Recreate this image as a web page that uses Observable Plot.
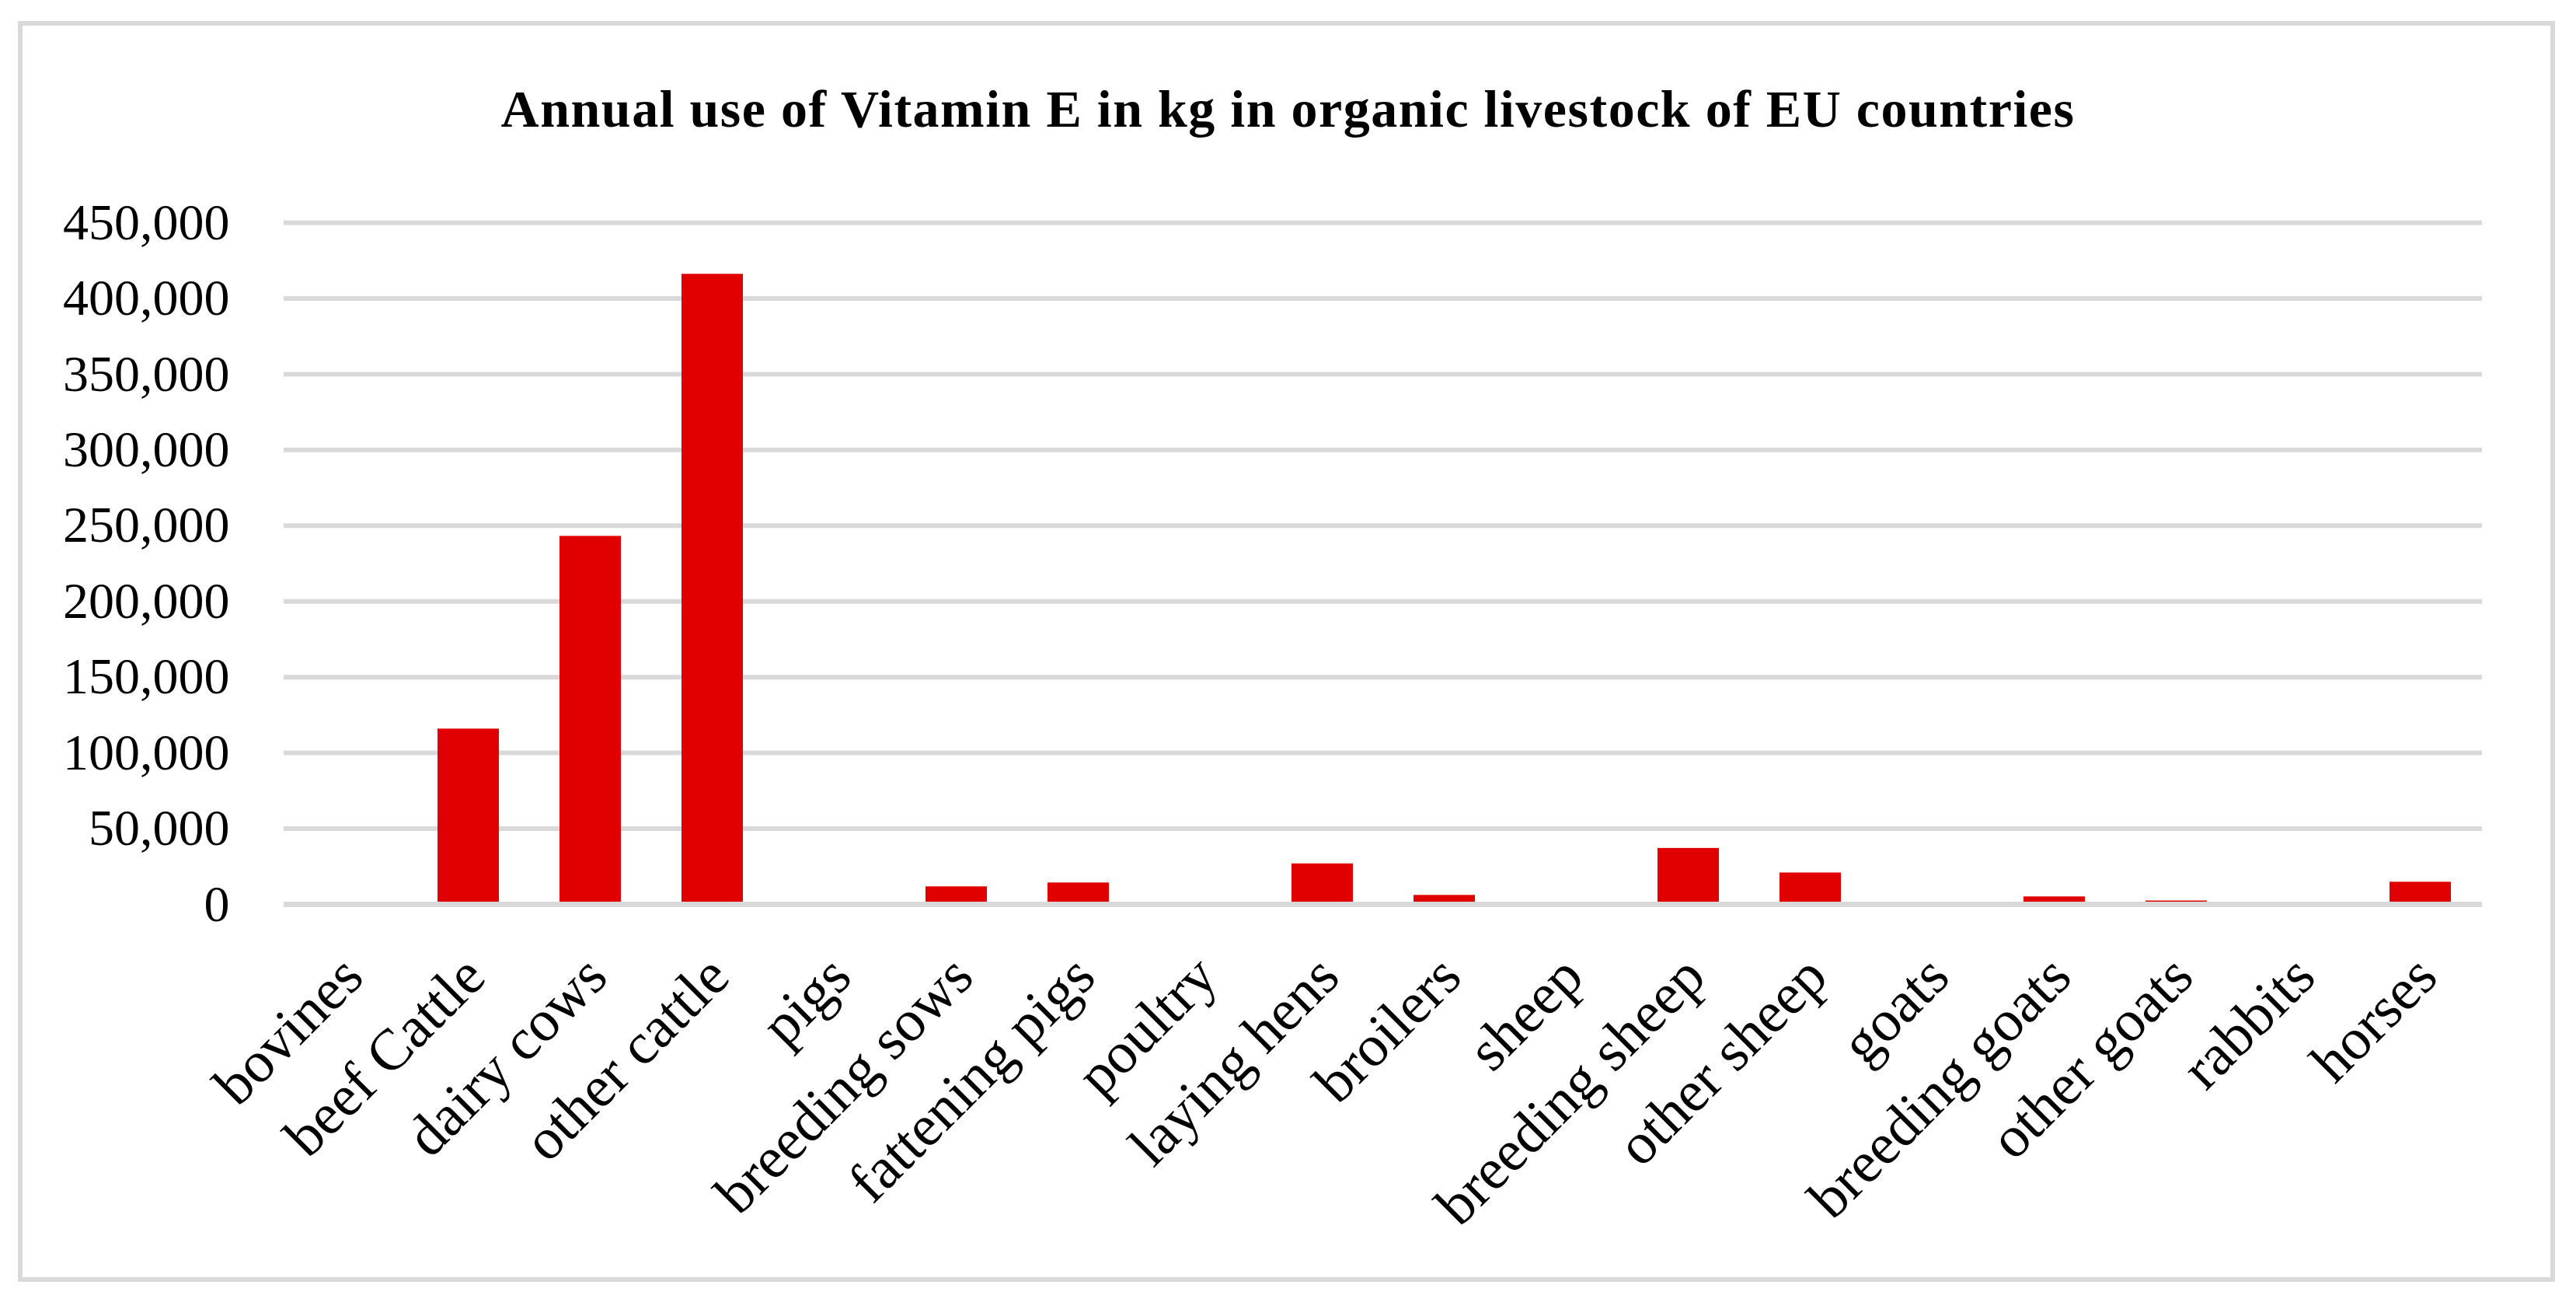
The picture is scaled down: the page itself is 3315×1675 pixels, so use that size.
<!DOCTYPE html>
<html>
<head>
<meta charset="utf-8">
<script src="https://cdn.jsdelivr.net/npm/d3@7"></script>
<script src="https://cdn.jsdelivr.net/npm/@observablehq/plot@0.6"></script>
<style>
  html, body { margin: 0; padding: 0; background: #fff; }
  #wrap { position: relative; width: 3315px; height: 1675px; overflow: hidden; background: #fff; }
  #frame { position: absolute; left: 23px; top: 27px; width: 3265px; height: 1622px; box-sizing: border-box; border: 6px solid #d9d9d9; }
  #title { position: absolute; left: 0; top: 106px; width: 3315px; text-align: center;
           font-family: "Liberation Serif", serif; font-weight: bold; font-size: 68px; line-height: 68px;
           letter-spacing: 1.5px; color: #000; }
  #chart { position: absolute; left: 0; top: 0; }
</style>
</head>
<body>
<div id="wrap">
  <div id="frame"></div>
  <div id="title">Annual use of Vitamin E in kg in organic livestock of EU countries</div>
  <div id="chart"></div>
</div>
<script>
const categories = ["bovines", "beef Cattle", "dairy cows", "other cattle", "pigs", "breeding sows",
  "fattening pigs", "poultry", "laying hens", "broilers", "sheep", "breeding sheep", "other sheep",
  "goats", "breeding goats", "other goats", "rabbits", "horses"];
const values = [0, 115800, 243000, 416000, 0, 11650, 14200, 0, 26800, 6000, 0, 37000, 20800,
  0, 5000, 2300, 0, 14700];
const yTicks = [0, 50000, 100000, 150000, 200000, 250000, 300000, 350000, 400000, 450000];

const data = categories.map((c, i) => ({category: c, value: values[i]}));

const chart = Plot.plot({
  width: 3315,
  height: 1675,
  marginLeft: 365,
  marginRight: 121,
  marginTop: 286,
  marginBottom: 512,
  style: {fontFamily: "Liberation Serif, serif", color: "#000", background: "transparent", overflow: "visible"},
  x: {domain: categories, paddingInner: 0.5, paddingOuter: 0.25, label: null},
  y: {domain: [0, 450000], label: null},
  marks: [
    Plot.gridY(yTicks.filter(d => d > 0), {stroke: "#d9d9d9", strokeOpacity: 1, strokeWidth: 6}),
    Plot.barY(data, {x: "category", y: "value", fill: "#e00000"}),
    Plot.ruleY([0], {stroke: "#d9d9d9", strokeWidth: 7}),
    Plot.axisY(yTicks, {tickSize: 0, tickPadding: 70, tickFormat: d3.format(","), fontSize: 66, label: null}),
    Plot.axisX({tickSize: 0, tickPadding: 80, dx: 8, tickRotate: -45, fontSize: 75, label: null})
  ]
});
document.getElementById("chart").appendChild(chart);
</script>
</body>
</html>
